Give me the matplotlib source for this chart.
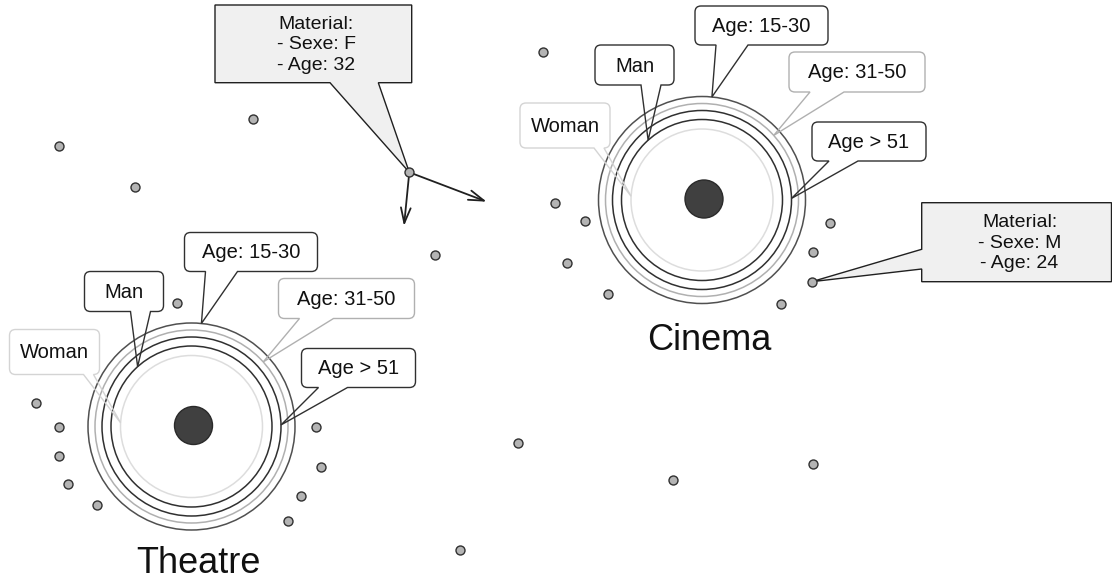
import matplotlib
matplotlib.use("Agg")
import numpy as np
import matplotlib.pyplot as plt
from matplotlib.path import Path
from matplotlib.patches import PathPatch, Circle

plt.rcParams['font.family'] = ['Liberation Sans', 'DejaVu Sans']

# venues (pixel coordinates, y grows downwards)
VENUES = ["Theatre", "Cinema"]
VENUE_X = [191.5, 702.0]
VENUE_Y = [426.5, 200.0]
VENUE_TITLE_DY = [137, 141]

# rings around each venue, outermost first
RING_LABELS = ["Age: 15-30", "Age: 31-50", "Age > 51", "Man", "Woman"]
RING_RADII = [103.5, 96.5, 89.5, 80.5, 71.0]
RING_COLORS = ["#505050", "#b0b0b0", "#303030", "#303030", "#dddddd"]
LABEL_EDGE = ["#303030", "#b0b0b0", "#303030", "#303030", "#d4d4d4"]
TIP_ANGLES = [-84.5, -42.0, -1.0, -132.0, -177.0]
# label boxes relative to venue centre: x0, y0, x1, y1 and tail base x
LABEL_BOXES = [(-7, -194, 126, -155), (87, -148, 223, -108), (110, -78, 224, -39),
               (-107, -155, -28, -115), (-182, -97, -92, -52)]
LABEL_TAILS = [(14, 46), (108, 142), (127, 156), (-61, -41), (-108, -98)]

# scattered people
DOT_X = [59.3, 135, 253.3, 176.7, 435, 409.3, 543.3, 555, 585, 566.7, 608.3,
         781, 811.7, 812.7, 830, 517.7, 673.3, 813.3, 460,
         36, 59, 59, 68.3, 96.7, 316, 321, 300.7, 288.3]
DOT_Y = [146, 187.3, 119.3, 303.3, 255, 172.3, 51.7, 202.7, 221, 263.3, 294.3,
         304.3, 281.7, 252.3, 223.3, 443.3, 480, 464, 550,
         403.3, 426.7, 456, 484, 505, 426.7, 466.7, 496, 521]

# material call-outs
MAT_TEXTS = ["Material:\n- Sexe: F\n- Age: 32", "Material:\n- Sexe: M\n- Age: 24"]
MAT_DOT = [5, 12]
MAT_BOXES = [(215, 5, 411.7, 82.7), (921.7, 202.7, 1111.5, 281.7)]
MAT_SIDE = ["bottom", "left"]
MAT_BASE = [(330, 378.3), (249.3, 269)]

# movement arrows of the selected person
ARROW_END_X = [486.7, 404.0]
ARROW_END_Y = [201.7, 226.0]


def callout(ax, box, tip, base, side="bottom", r=6, fc="white", ec="#303030",
            lw=1.0, z=3):
    x0, y0, x1, y1 = box
    tx, ty = tip
    a, b = base
    verts, codes = [], []

    def line(p):
        verts.append(p)
        codes.append(Path.LINETO)

    def corner(c, p):
        verts.extend([c, p])
        codes.extend([Path.CURVE3, Path.CURVE3])

    verts.append((x0 + r, y0))
    codes.append(Path.MOVETO)
    line((x1 - r, y0))
    corner((x1, y0), (x1, y0 + r))
    line((x1, y1 - r))
    corner((x1, y1), (x1 - r, y1))
    if side == "bottom":
        line((b, y1)); line((tx, ty)); line((a, y1))
    line((x0 + r, y1))
    corner((x0, y1), (x0, y1 - r))
    if side == "left":
        line((x0, b)); line((tx, ty)); line((x0, a))
    line((x0, y0 + r))
    corner((x0, y0), (x0 + r, y0))
    verts.append((x0 + r, y0))
    codes.append(Path.CLOSEPOLY)
    p = Path(verts, codes)
    ax.add_patch(PathPatch(p, facecolor=fc, edgecolor="none", zorder=1))
    ax.add_patch(PathPatch(p, facecolor="none", edgecolor=ec, lw=lw, zorder=z))


fig = plt.figure(figsize=(11.12, 5.87), dpi=100, facecolor="white")
ax = fig.add_axes([0, 0, 1, 1])
ax.set_xlim(0, 1112)
ax.set_ylim(587, 0)
ax.set_axis_off()

for name, cx, cy, tdy in zip(VENUES, VENUE_X, VENUE_Y, VENUE_TITLE_DY):
    for rad, col in zip(RING_RADII, RING_COLORS):
        ax.add_patch(Circle((cx, cy), rad, fill=False, ec=col, lw=1.1, zorder=2))
    ax.add_patch(Circle((cx + 2, cy - 1), 19, fc="#404040", ec="#2a2a2a",
                        lw=1.0, zorder=2))
    for lab, rad, ang, bx, tl, ec in zip(RING_LABELS, RING_RADII, TIP_ANGLES,
                                          LABEL_BOXES, LABEL_TAILS, LABEL_EDGE):
        t = np.radians(ang)
        tip = (cx + rad * np.cos(t), cy + rad * np.sin(t))
        box = (cx + bx[0], cy + bx[1], cx + bx[2], cy + bx[3])
        callout(ax, box, tip, (cx + tl[0], cx + tl[1]), ec=ec, lw=1.0)
        ax.text((box[0] + box[2]) / 2, (box[1] + box[3]) / 2 + 1, lab,
                ha="center", va="center", fontsize=14.5, color="#111111", zorder=4)
    ax.text(cx + 7, cy + tdy, name, ha="center", va="center", fontsize=26,
            color="#111111", zorder=4)

for txt, di, bx, side, base in zip(MAT_TEXTS, MAT_DOT, MAT_BOXES, MAT_SIDE, MAT_BASE):
    callout(ax, bx, (DOT_X[di], DOT_Y[di]), base, side=side, r=0,
            fc="#f0f0f0", ec="#202020", lw=1.0, z=3)
    ax.text((bx[0] + bx[2]) / 2 + 3, (bx[1] + bx[3]) / 2 + 1, txt, ha="center",
            va="center", fontsize=14, color="#111111", linespacing=1.25, zorder=4)

for ex, ey in zip(ARROW_END_X, ARROW_END_Y):
    ax.annotate("", xy=(ex, ey), xytext=(DOT_X[5], DOT_Y[5]),
                arrowprops=dict(arrowstyle="->,head_length=1.1,head_width=0.35",
                                color="#202020", lw=1.3, shrinkA=0, shrinkB=0),
                zorder=3)

ax.scatter(DOT_X, DOT_Y, s=42, c="#b4b4b4", edgecolors="#303030",
           linewidths=1.0, zorder=5)

fig.savefig("out.png", dpi=100, facecolor="white")
